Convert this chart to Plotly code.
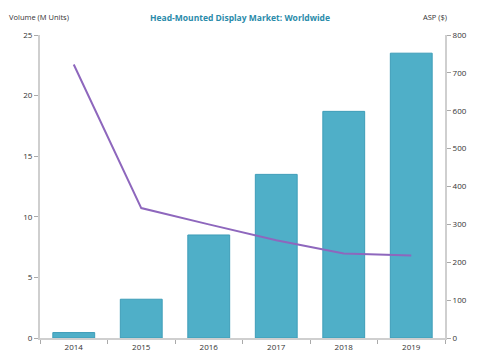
import plotly.graph_objects as go

years = ["2014", "2015", "2016", "2017", "2018", "2019"]
volume = [0.45, 3.2, 8.5, 13.5, 18.7, 23.5]
asp = [722, 343, 300, 258, 223, 218]

fig = go.Figure()
fig.add_trace(go.Bar(x=years, y=volume, marker=dict(color="#4FAFC8", line=dict(color="#3E9DB8", width=1)),
                     width=0.62, yaxis="y", showlegend=False))
fig.add_trace(go.Scatter(x=years, y=asp, mode="lines", line=dict(color="#8E67BD", width=2),
                         yaxis="y2", showlegend=False))

axis_common = dict(showgrid=False, zeroline=False, showline=True, linecolor="#CFCFCF", linewidth=2,
                   ticks="outside", ticklen=4, tickcolor="#AAAAAA", automargin=False,
                   tickfont=dict(size=8, color="#333333", family="Open Sans"))

fig.update_layout(
    width=480, height=360,
    margin=dict(l=40, r=35, t=35, b=22),
    plot_bgcolor="white", paper_bgcolor="white",
    xaxis=dict(type="category", showgrid=False, showline=True, linecolor="#CFCFCF", linewidth=2,
               ticks="outside", ticklen=4, tickcolor="#AAAAAA", tickson="boundaries", automargin=False,
               tickfont=dict(size=8, color="#333333", family="Open Sans")),
    yaxis=dict(range=[0, 25], dtick=5, **axis_common),
    yaxis2=dict(range=[0, 800], dtick=100, overlaying="y", side="right", **axis_common),
    title=dict(text="<b>Head-Mounted Display Market: Worldwide</b>", x=0.5, xanchor="center",
               y=0.95, yanchor="middle", font=dict(size=8.5, color="#2A8BAA", family="Open Sans")),
    annotations=[
        dict(text="Volume (M Units)", xref="paper", yref="paper", x=-0.082, y=1.06, xanchor="left",
             yanchor="middle", showarrow=False, font=dict(size=7.5, color="#333333", family="Open Sans")),
        dict(text="ASP ($)", xref="paper", yref="paper", x=0.94, y=1.06, xanchor="left",
             yanchor="middle", showarrow=False, font=dict(size=7.5, color="#333333", family="Open Sans")),
    ],
)

fig.write_html("out.html", config={"displayModeBar": False},
               post_script="document.body.style.margin='0';document.body.style.overflow='hidden';")
